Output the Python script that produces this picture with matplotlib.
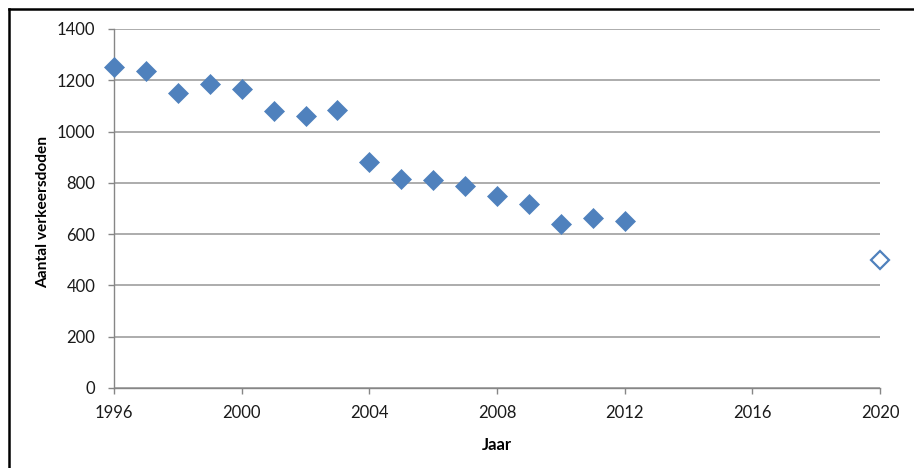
#!/usr/bin/env python3
"""
Scatter of road deaths per year with the 2020 target as an open marker.
"""

import matplotlib

matplotlib.use("Agg")
import matplotlib.pyplot as plt
from matplotlib.lines import Line2D

years = [1996, 1997, 1998, 1999, 2000, 2001, 2002, 2003, 2004,
         2005, 2006, 2007, 2008, 2009, 2010, 2011, 2012]
deaths = [1250, 1235, 1150, 1185, 1165, 1082, 1062, 1086, 880,
          815, 810, 788, 750, 718, 638, 662, 650]
target_year = [2020]
target_deaths = [500]

x_ticks = [1996, 2000, 2004, 2008, 2012, 2016, 2020]
y_ticks = [0, 200, 400, 600, 800, 1000, 1200, 1400]

BLUE = "#4F81BD"
GRID = "#A6A6A6"
AXIS = "#868686"

plt.rcParams["font.family"] = ["Lato", "DejaVu Sans"]

fig = plt.figure(figsize=(9.14, 4.68), dpi=100)
ax = fig.add_axes([114 / 914, 80 / 468, 766 / 914, 359 / 468])

ax.plot(years, deaths, linestyle="none", marker="D", markersize=10,
        markerfacecolor=BLUE, markeredgecolor=BLUE, markeredgewidth=0.5,
        zorder=3, clip_on=False)
ax.plot(target_year, target_deaths, linestyle="none", marker="D", markersize=9.5,
        markerfacecolor="white", markeredgecolor=BLUE, markeredgewidth=1.6,
        zorder=3, clip_on=False)

ax.set_xlim(1996, 2020)
ax.set_ylim(0, 1400)
ax.set_xticks(x_ticks)
ax.set_yticks(y_ticks)

ax.yaxis.grid(True, color=GRID, linewidth=1.3)
ax.set_axisbelow(True)

for side in ("top", "right"):
    ax.spines[side].set_visible(False)
for side in ("left", "bottom"):
    ax.spines[side].set_color(AXIS)
    ax.spines[side].set_linewidth(1.0)

ax.tick_params(axis="both", colors=AXIS, labelcolor="#1a1a1a",
               labelsize=12, length=4.5, width=1.0, direction="out")
ax.tick_params(axis="x", pad=8)
ax.tick_params(axis="y", pad=9)

ax.set_xlabel("Jaar", fontsize=12, fontweight="bold", labelpad=11)
ax.set_ylabel("Aantal verkeersdoden", fontsize=11.2, fontweight="bold")
ax.yaxis.set_label_coords(-0.084, 0.49)

# chart frame: only the top and left edges are on the canvas
fig.add_artist(Line2D([9 / 914, 1.0], [1 - 9 / 468, 1 - 9 / 468],
                      transform=fig.transFigure, color="black", linewidth=1.8))
fig.add_artist(Line2D([9 / 914, 9 / 914], [0.0, 1 - 9 / 468],
                      transform=fig.transFigure, color="black", linewidth=1.8))

fig.savefig("out.png", dpi=100)
